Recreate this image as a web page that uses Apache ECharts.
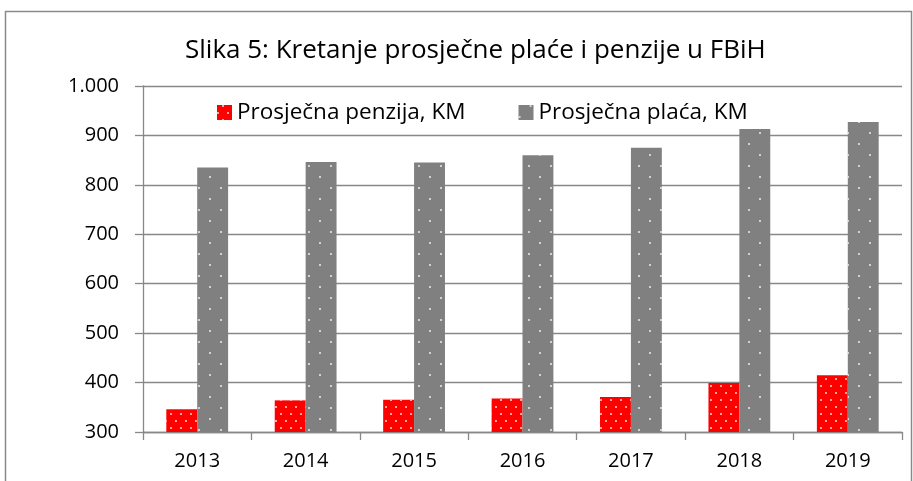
<!DOCTYPE html>
<html>
<head>
<meta charset="utf-8">
<script src="https://cdn.jsdelivr.net/npm/echarts@6/dist/echarts.min.js"></script>
<style>
html,body{margin:0;padding:0;background:#fff;}
#chart{width:913px;height:481px;}
</style>
</head>
<body>
<div id="chart"></div>
<script>
const titleText = 'Slika 5: Kretanje prosječne plaće i penzije u FBiH';
const categories = ['2013', '2014', '2015', '2016', '2017', '2018', '2019'];
const seriesNames = ['Prosječna penzija, KM', 'Prosječna plaća, KM'];
const pensionValues = [346, 364, 365, 368, 371, 399, 415];
const salaryValues = [835, 846, 845, 860, 875, 913, 927];
const yMin = 300, yMax = 1000, yStep = 100;

const FONT = '"Open Sans", "Noto Sans", sans-serif';
const chart = echarts.init(document.getElementById('chart'), null, {renderer: 'canvas'});

function fmt(v) {
  return String(v).replace(/\B(?=(\d{3})+(?!\d))/g, '.');
}

chart.setOption({
  animation: false,
  backgroundColor: '#fff',
  graphic: [{
    type: 'rect',
    shape: {x: 5.5, y: 11.5, width: 906, height: 480},
    style: {fill: 'none', stroke: '#8a8a8a', lineWidth: 1.5},
    silent: true
  }],
  title: {
    text: titleText,
    left: 180,
    top: 33,
    textStyle: {fontFamily: FONT, fontSize: 26, fontWeight: 'normal', color: '#000'}
  },
  legend: {
    data: seriesNames,
    top: 96,
    left: 212,
    itemWidth: 15,
    itemHeight: 15,
    itemGap: 53,
    icon: 'rect',
    textStyle: {fontFamily: FONT, fontSize: 22.5, color: '#000'}
  },
  grid: {left: 143, right: 11, top: 86, bottom: 49, containLabel: false},
  xAxis: {
    type: 'category',
    data: categories,
    axisLine: {lineStyle: {color: '#888', width: 1.3}},
    axisTick: {show: true, length: 8, alignWithLabel: false, lineStyle: {color: '#888', width: 1.3}},
    axisLabel: {fontFamily: FONT, fontSize: 20, color: '#000', margin: 19}
  },
  yAxis: {
    type: 'value',
    min: yMin,
    max: yMax,
    interval: yStep,
    axisLine: {show: true, lineStyle: {color: '#888', width: 1.3}},
    axisTick: {show: true, length: 8, lineStyle: {color: '#888', width: 1.3}},
    splitLine: {show: true, lineStyle: {color: '#888', width: 1.3}},
    axisLabel: {fontFamily: FONT, fontSize: 20, color: '#000', margin: 24, formatter: fmt}
  },
  series: [{
    name: seriesNames[0],
    type: 'bar',
    data: pensionValues,
    barGap: '0%',
    barCategoryGap: '43%',
    itemStyle: {
      color: '#ff0000',
      decal: {
        symbol: 'circle',
        symbolSize: 1,
        color: 'rgba(255,255,255,0.85)',
        dashArrayX: [[2, 8], [0, 5, 2, 3]],
        dashArrayY: [2, 5],
        rotation: 0
      }
    }
  }, {
    name: seriesNames[1],
    type: 'bar',
    data: salaryValues,
    barGap: '0%',
    barCategoryGap: '43%',
    itemStyle: {
      color: '#808080',
      decal: {
        symbol: 'circle',
        symbolSize: 1,
        color: 'rgba(255,255,255,0.85)',
        dashArrayX: [[2, 20], [0, 11, 2, 9]],
        dashArrayY: [2, 9],
        rotation: 0
      }
    }
  }]
});
</script>
</body>
</html>
